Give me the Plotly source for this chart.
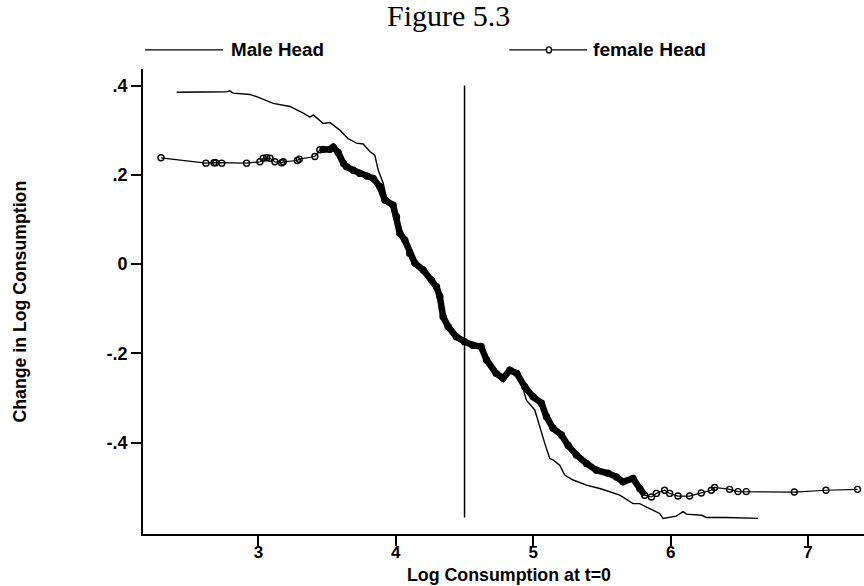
import plotly.graph_objects as go

# ---------------- data ----------------
male_x = [2.405, 2.769, 2.79, 2.817, 2.938, 2.987, 3.108, 3.229, 3.326, 3.375, 3.40, 3.471, 3.52,
          3.593, 3.653, 3.714, 3.762, 3.811, 3.847, 3.871, 3.908, 3.93, 3.98, 4.005, 4.029, 4.065,
          4.10, 4.138, 4.199, 4.26, 4.296, 4.32, 4.344, 4.38, 4.44, 4.50, 4.56, 4.62, 4.66, 4.73,
          4.78, 4.83, 4.88, 4.93, 4.95, 5.011, 5.047, 5.084, 5.12, 5.144, 5.193, 5.229, 5.29,
          5.387, 5.484, 5.556, 5.63, 5.726, 5.775, 5.847, 5.92, 5.944, 6.041, 6.09, 6.115, 6.226,
          6.26, 6.405, 6.635]
male_y = [0.385, 0.386, 0.388, 0.383, 0.380, 0.375, 0.360, 0.353, 0.338, 0.329, 0.334, 0.315, 0.317,
          0.300, 0.281, 0.271, 0.269, 0.252, 0.244, 0.211, 0.181, 0.150, 0.132, 0.106, 0.069, 0.054,
          0.024, 0.002, -0.013, -0.036, -0.051, -0.073, -0.118, -0.140, -0.163, -0.174, -0.182, -0.185,
          -0.215, -0.245, -0.256, -0.238, -0.245, -0.283, -0.305, -0.327, -0.365, -0.402, -0.436,
          -0.439, -0.451, -0.473, -0.484, -0.4955, -0.503, -0.5105, -0.518, -0.537, -0.537, -0.548,
          -0.559, -0.570, -0.565, -0.555, -0.5605, -0.563, -0.568, -0.568, -0.570]

female_x = [2.291, 2.618, 2.677, 2.689, 2.733, 2.914, 3.011, 3.035, 3.060, 3.084, 3.120, 3.169, 3.181,
            3.283, 3.297, 3.411, 3.447, 3.471, 3.520, 3.544, 3.58, 3.62, 3.641, 3.69, 3.738, 3.79,
            3.835, 3.884, 3.92, 3.98, 4.005, 4.029, 4.065, 4.10, 4.138, 4.199, 4.26, 4.296, 4.32,
            4.344, 4.38, 4.44, 4.50, 4.56, 4.62, 4.66, 4.73, 4.78, 4.83, 4.88, 4.938, 4.999, 5.06,
            5.096, 5.144, 5.205, 5.253, 5.314, 5.387, 5.46, 5.544, 5.605, 5.653, 5.726, 5.775, 5.811,
            5.86, 5.896, 5.956, 5.993, 6.053, 6.138, 6.223, 6.296, 6.32, 6.429, 6.49, 6.55, 6.90,
            7.13, 7.36]
female_y = [0.238, 0.226, 0.227, 0.227, 0.226, 0.226, 0.229, 0.237, 0.238, 0.237, 0.229, 0.227, 0.229,
            0.232, 0.235, 0.241, 0.256, 0.257, 0.257, 0.262, 0.250, 0.225, 0.218, 0.210, 0.203, 0.197,
            0.192, 0.173, 0.1435, 0.132, 0.106, 0.069, 0.054, 0.024, 0.002, -0.0135, -0.036, -0.051,
            -0.073, -0.118, -0.140, -0.163, -0.174, -0.182, -0.185, -0.215, -0.245, -0.256, -0.238,
            -0.245, -0.275, -0.2975, -0.312, -0.342, -0.368, -0.383, -0.406, -0.428, -0.447, -0.462,
            -0.469, -0.477, -0.488, -0.4805, -0.503, -0.518, -0.522, -0.514, -0.507, -0.514, -0.520,
            -0.520, -0.513, -0.507, -0.5007, -0.505, -0.510, -0.510, -0.511, -0.507, -0.505]

x_ticks = [3, 4, 5, 6, 7]
y_ticks = [-0.4, -0.2, 0, 0.2, 0.4]
y_tick_labels = ["-.4", "-.2", "0", ".2", ".4"]
ref_x = 4.5
ref_y_range = [-0.568, 0.4]
series_names = ["Male Head", "female Head"]
title_text = "Figure 5.3"
x_title = "Log Consumption at t=0"
y_title = "Change in Log Consumption"

# ---------------- figure ----------------
BOLD = dict(family="Liberation Sans, Arial, sans-serif", color="black", weight="bold")

fig = go.Figure()

# dense band of overlapping circles in the middle of the female curve
band_idx = [i for i, v in enumerate(female_x) if 3.44 <= v <= 5.82]
fig.add_trace(go.Scatter(
    x=[female_x[i] for i in band_idx], y=[female_y[i] for i in band_idx],
    mode="lines", line=dict(color="black", width=6.5), hoverinfo="skip", showlegend=False))

fig.add_trace(go.Scatter(
    x=male_x, y=male_y, mode="lines", name=series_names[0],
    line=dict(color="black", width=1.4), showlegend=False))

fig.add_trace(go.Scatter(
    x=female_x, y=female_y, mode="lines+markers", name=series_names[1],
    line=dict(color="black", width=1.2),
    marker=dict(symbol="circle-open", size=6, color="black", line=dict(width=1.4)),
    showlegend=False))

# vertical reference line
fig.add_shape(type="line", xref="x", yref="y", x0=ref_x, x1=ref_x,
              y0=ref_y_range[0], y1=ref_y_range[1], line=dict(color="black", width=1.5))

# custom legend (paper coordinates)
LEG_Y = 1.041
fig.add_shape(type="line", xref="paper", yref="paper", x0=0.003, x1=0.111, y0=LEG_Y, y1=LEG_Y,
              line=dict(color="black", width=1.3))
fig.add_annotation(xref="paper", yref="paper", x=0.119, y=LEG_Y, text=series_names[0],
                   showarrow=False, xanchor="left", yanchor="middle", font=dict(size=18.8, **BOLD))
fig.add_shape(type="line", xref="paper", yref="paper", x0=0.508, x1=0.616, y0=LEG_Y, y1=LEG_Y,
              line=dict(color="black", width=1.3))
fig.add_shape(type="circle", xref="paper", yref="paper", x0=0.5595, x1=0.5665,
              y0=LEG_Y - 0.0065, y1=LEG_Y + 0.0065, fillcolor="white",
              line=dict(color="black", width=1.4))
fig.add_annotation(xref="paper", yref="paper", x=0.621, y=LEG_Y, text=series_names[1],
                   showarrow=False, xanchor="left", yanchor="middle", font=dict(size=19.2, **BOLD))

# title
fig.add_annotation(xref="paper", yref="paper", x=0.4244, y=1.114, text=title_text,
                   showarrow=False, xanchor="center", yanchor="middle",
                   font=dict(family="Liberation Serif, Times New Roman, serif", size=30, color="black"))

# axis titles
fig.add_annotation(xref="paper", yref="paper", x=0.5076, y=-0.088, text=x_title,
                   showarrow=False, xanchor="center", yanchor="middle", font=dict(size=17.8, **BOLD))
fig.add_annotation(xref="paper", yref="paper", x=-0.1706, y=0.5, text=y_title, textangle=-90,
                   showarrow=False, xanchor="center", yanchor="middle", font=dict(size=17.7, **BOLD))

fig.update_layout(
    width=864, height=586,
    margin=dict(l=143, r=0, t=69, b=52),
    paper_bgcolor="white", plot_bgcolor="white",
    showlegend=False,
    xaxis=dict(range=[2.16, 7.407], tickvals=x_ticks, ticks="outside", ticklen=10, tickwidth=1.5,
               tickcolor="black", showline=True, linecolor="black", linewidth=1.6,
               showgrid=False, zeroline=False, ticklabelstandoff=-8,
               tickfont=dict(size=17, **BOLD)),
    yaxis=dict(range=[-0.605, 0.437], tickvals=y_ticks, ticktext=y_tick_labels, ticks="outside",
               ticklen=10, tickwidth=1.5, tickcolor="black", showline=True, linecolor="black",
               linewidth=1.6, showgrid=False, zeroline=False, tickfont=dict(size=18, **BOLD)),
)

fig.write_html("out.html")
